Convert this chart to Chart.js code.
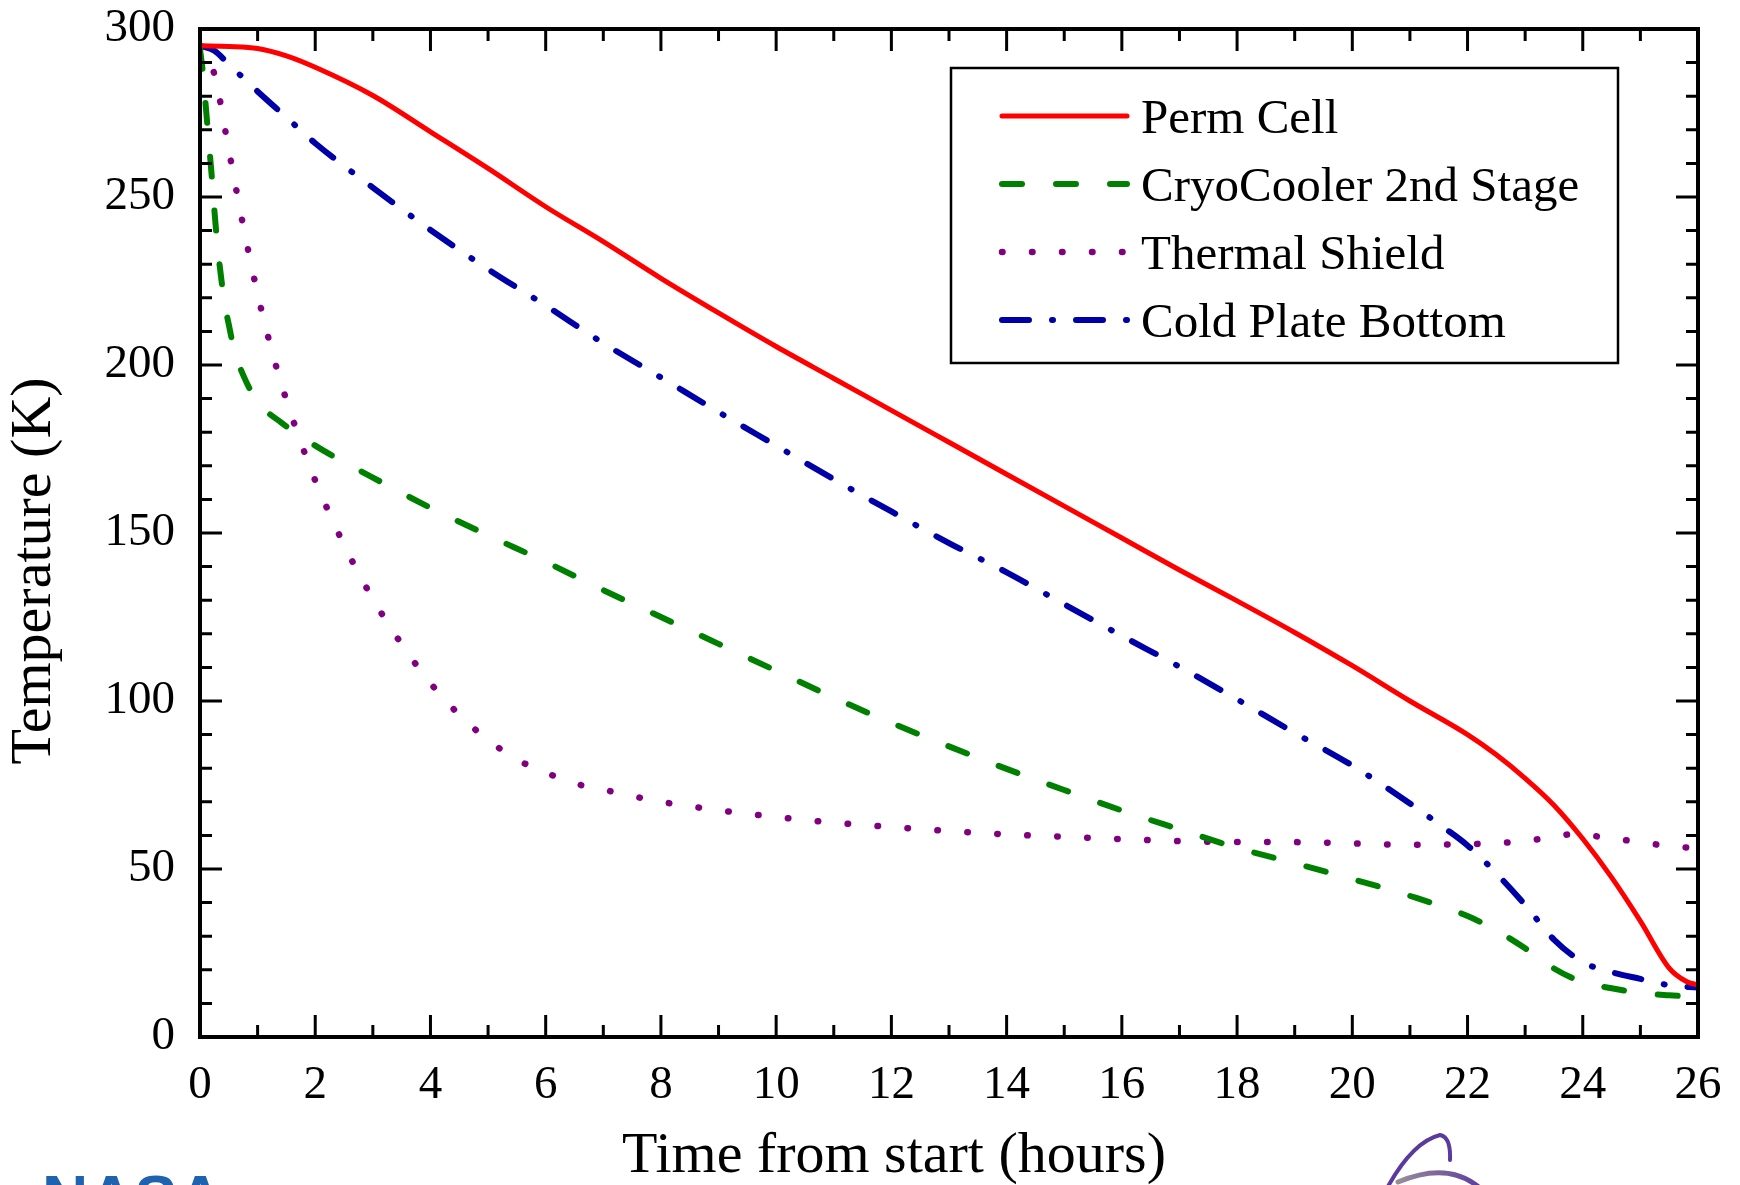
<!DOCTYPE html>
<html>
<head>
<meta charset="utf-8">
<script src="https://cdn.jsdelivr.net/npm/chart.js@4.4.1/dist/chart.umd.min.js"></script>
<style>
  body { margin: 0; background: #fff; }
  #wrap { width: 1740px; height: 1185px; }
</style>
</head>
<body>
<div id="wrap"><canvas id="coolChart" width="1740" height="1185"></canvas></div>
<script>
// values (hours, kelvin)
const permTime = [0, 0.5, 1, 1.5, 2, 3, 4, 5, 6, 7, 8, 9, 10, 11, 12, 13, 14, 15, 16, 17, 18, 19, 20, 21, 22, 22.5, 23, 23.5, 24, 24.5, 25, 25.5, 25.8, 26];
const permTemp = [295, 294.8, 294.2, 292, 288.6, 280.2, 269.4, 258.5, 247.1, 236.7, 225.8, 215.5, 205.5, 196, 186.5, 177, 167.5, 158, 148.5, 139, 129.8, 120.4, 110.5, 100, 90, 84, 77, 69, 59, 47.5, 34.5, 20.5, 16.5, 15.5];

const cryoTime = [0, 0.05, 0.1, 0.15, 0.2, 0.25, 0.3, 0.36, 0.42, 0.5, 0.6, 0.75, 1, 1.4, 2, 3, 4, 5, 6, 7, 8, 9, 10, 11, 12, 13, 14, 15, 16, 17, 18, 19, 20, 21, 22, 22.5, 23, 23.5, 24, 24.5, 25, 25.5, 26];
const cryoTemp = [294, 287, 277, 267, 257, 246, 236, 227, 219, 212, 204, 197, 189, 183, 176, 166.5, 157.5, 149.3, 141.4, 133, 125, 117, 109, 101, 93.5, 86.5, 79.8, 73.5, 67.4, 61.8, 56.3, 51.7, 47, 42, 36, 31.7, 26.4, 20.4, 16.3, 14.5, 13.1, 12.4, 12];

const shieldTime = [0, 0.1, 0.25, 0.5, 0.75, 1, 1.25, 1.5, 1.75, 2, 2.5, 3, 3.5, 4, 4.5, 5, 5.5, 6, 6.5, 7, 8, 9, 10, 11, 12, 13, 14, 15, 16, 17, 18, 19, 20, 21, 22, 22.5, 23, 23.5, 23.85, 24.2, 24.5, 25, 25.5, 26];
const shieldTemp = [295, 292, 286.5, 264, 241.4, 221.2, 204, 189.5, 177, 165.6, 146.5, 130.4, 116.9, 105.3, 95.9, 88.4, 82.6, 78.7, 75.5, 73.6, 70, 67.5, 65.5, 63.8, 62.5, 61.3, 60.3, 59.6, 58.9, 58.3, 58, 58, 57.6, 57.2, 57.4, 57.7, 58.3, 59.6, 60.4, 59.8, 59.1, 58, 56.8, 56.2];

const plateTime = [0, 0.25, 0.5, 1, 1.5, 2, 3, 4, 5, 6, 7, 8, 9, 10, 11, 12, 13, 14, 15, 16, 17, 18, 19, 20, 21, 21.5, 22, 22.5, 23, 23.5, 24, 24.5, 25, 25.5, 26];
const plateTemp = [295, 293.5, 289.5, 281.4, 273.7, 266, 252.8, 240.2, 228.5, 217.7, 206.5, 196.3, 186, 176, 166, 156.4, 147, 138.3, 128.8, 119.4, 110.2, 100.5, 90.5, 80.8, 69.5, 63.4, 57, 48.7, 39.3, 29, 22.3, 19.3, 17.3, 15.4, 14.7];

const seriesNames = ["Perm Cell", "CryoCooler 2nd Stage", "Thermal Shield", "Cold Plate Bottom"];
const seriesColors = ["#ff0000", "#008000", "#800080", "#0000a8"];

const xMax = 26;
const yMax = 300;
const xMajor = 2, xMinor = 1;
const yMajor = 50, yMinor = 10;

const serif = "'Liberation Serif', 'Times New Roman', serif";
Chart.defaults.font.family = serif;
Chart.defaults.color = "#000";

function toPoints(times, temps) {
  var pts = [];
  for (var i = 0; i < times.length; i++) {
    pts.push({ x: times[i], y: temps[i] });
  }
  return pts;
}

// inward ticks on all four sides plus the closed frame
const framePlugin = {
  id: "frame",
  afterDraw(chart) {
    const ctx = chart.ctx;
    const a = chart.chartArea;
    const xs = chart.scales.x;
    const ys = chart.scales.y;
    ctx.save();
    ctx.strokeStyle = "#000";
    ctx.lineWidth = 3;
    ctx.beginPath();
    for (var v = 0; v <= xMax; v += xMinor) {
      var px = xs.getPixelForValue(v);
      var len = v % xMajor === 0 ? 22 : 12;
      ctx.moveTo(px, a.bottom); ctx.lineTo(px, a.bottom - len);
      ctx.moveTo(px, a.top); ctx.lineTo(px, a.top + len);
    }
    for (var t = 0; t <= yMax; t += yMinor) {
      var py = ys.getPixelForValue(t);
      var l = t % yMajor === 0 ? 22 : 12;
      ctx.moveTo(a.left, py); ctx.lineTo(a.left + l, py);
      ctx.moveTo(a.right, py); ctx.lineTo(a.right - l, py);
    }
    ctx.stroke();
    ctx.lineWidth = 4;
    ctx.strokeRect(a.left, a.top, a.right - a.left, a.bottom - a.top);

    // axis titles
    ctx.fillStyle = "#000";
    ctx.font = "58px " + serif;
    ctx.textAlign = "center";
    ctx.textBaseline = "alphabetic";
    ctx.fillText("Time from start (hours)", 894, 1172);
    ctx.save();
    ctx.translate(50, 571);
    ctx.rotate(-Math.PI / 2);
    ctx.fillText("Temperature (K)", 0, 0);
    ctx.restore();
    ctx.restore();
  }
};

// boxed legend in the upper right
const legendPlugin = {
  id: "boxLegend",
  afterDraw(chart) {
    const ctx = chart.ctx;
    ctx.save();
    ctx.fillStyle = "#fff";
    ctx.fillRect(951, 68, 667, 295);
    ctx.strokeStyle = "#000";
    ctx.lineWidth = 2.5;
    ctx.strokeRect(951, 68, 667, 295);
    chart.data.datasets.forEach(function (ds, i) {
      var base = 133 + i * 68;
      var y = base - 17;
      ctx.beginPath();
      ctx.setLineDash(ds.borderDash || []);
      ctx.lineCap = "round";
      ctx.lineWidth = ds.borderWidth;
      ctx.strokeStyle = ds.borderColor;
      ctx.moveTo(1002, y);
      ctx.lineTo(1127, y);
      ctx.stroke();
      ctx.setLineDash([]);
      ctx.fillStyle = "#000";
      ctx.font = "49px " + serif;
      ctx.textAlign = "left";
      ctx.textBaseline = "alphabetic";
      ctx.fillText(ds.label, 1141, base);
    });
    ctx.restore();
  }
};

// cropped logo pieces along the bottom edge
const logoPlugin = {
  id: "logos",
  afterDraw(chart) {
    const ctx = chart.ctx;
    ctx.save();
    ctx.fillStyle = "#1f63b0";
    ctx.font = "bold 64px 'Liberation Sans', sans-serif";
    ctx.textBaseline = "top";
    ctx.fillText("NASA", 42, 1171);
    ctx.lineCap = "round";
    ctx.strokeStyle = "#5a3a9c";
    ctx.lineWidth = 4;
    ctx.beginPath();
    ctx.moveTo(1386, 1190);
    ctx.quadraticCurveTo(1412, 1142, 1440, 1135);
    ctx.quadraticCurveTo(1451, 1137, 1450, 1160);
    ctx.stroke();
    var g = ctx.createLinearGradient(1395, 0, 1485, 0);
    g.addColorStop(0, "#9a8f9a");
    g.addColorStop(1, "#5a3a9c");
    ctx.strokeStyle = g;
    ctx.lineWidth = 5;
    ctx.beginPath();
    ctx.moveTo(1398, 1182);
    ctx.quadraticCurveTo(1450, 1160, 1482, 1190);
    ctx.stroke();
    ctx.restore();
  }
};

const dashes = [[], [20, 34], [0.5, 29.5], [27, 23, 1, 23]];
const widths = [5, 6, 6.5, 6];
const seriesData = [
  toPoints(permTime, permTemp),
  toPoints(cryoTime, cryoTemp),
  toPoints(shieldTime, shieldTemp),
  toPoints(plateTime, plateTemp)
];

var datasets = [];
for (var i = 0; i < 4; i++) {
  datasets.push({
    label: seriesNames[i],
    data: seriesData[i],
    borderColor: seriesColors[i],
    backgroundColor: seriesColors[i],
    borderWidth: widths[i],
    borderDash: dashes[i],
    borderCapStyle: "round",
    borderJoinStyle: "round",
    cubicInterpolationMode: "monotone",
    pointRadius: 0,
    fill: false
  });
}

new Chart(document.getElementById("coolChart"), {
  type: "line",
  data: { datasets: datasets },
  options: {
    responsive: false,
    animation: false,
    layout: { padding: { left: 30, top: 29, right: 42, bottom: 0 } },
    plugins: {
      legend: { display: false },
      tooltip: { enabled: false }
    },
    scales: {
      x: {
        type: "linear",
        min: 0,
        max: xMax,
        afterFit: function (scale) {
          scale.height = 148;
          scale.paddingLeft = 0;
          scale.paddingRight = 0;
        },
        grid: { display: false, drawTicks: false },
        border: { display: false },
        ticks: { stepSize: xMajor, padding: 20, font: { size: 47 }, maxRotation: 0 }
      },
      y: {
        type: "linear",
        min: 0,
        max: yMax,
        afterFit: function (scale) {
          scale.width = 170;
          scale.paddingTop = 0;
          scale.paddingBottom = 0;
        },
        grid: { display: false, drawTicks: false },
        border: { display: false },
        ticks: { stepSize: yMajor, padding: 25, font: { size: 47 } }
      }
    }
  },
  plugins: [framePlugin, legendPlugin, logoPlugin]
});
</script>
</body>
</html>
